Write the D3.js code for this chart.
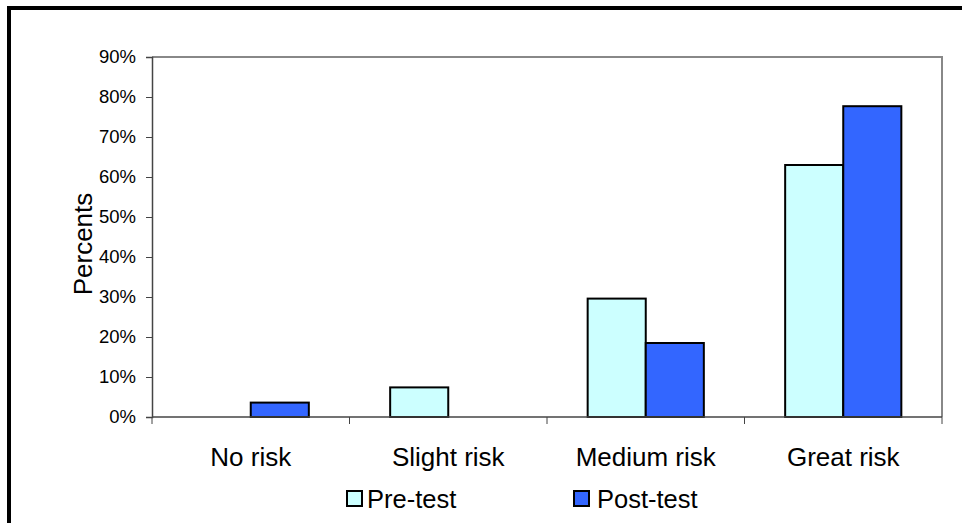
<!DOCTYPE html>
<html>
<head>
<meta charset="utf-8">
<script src="https://cdn.jsdelivr.net/npm/d3@7"></script>
<style>
  html, body { margin: 0; padding: 0; background: #fff; }
  svg { display: block; font-family: Arial, "Liberation Sans", sans-serif; }
</style>
</head>
<body>
<svg id="chart" width="962" height="523"></svg>
<script>
// Risk perception, pre-test vs post-test (percent of respondents)
const categories = ["No risk", "Slight risk", "Medium risk", "Great risk"];
const seriesNames = ["Pre-test", "Post-test"];
const preTest  = [0, 7.4, 29.6, 63.0];
const postTest = [3.6, 0, 18.5, 77.7];
const yTicks = [0, 10, 20, 30, 40, 50, 60, 70, 80, 90];
const colors = ["#CCFFFF", "#3366FF"];

const svg = d3.select("#chart");

// Outer frame
svg.append("rect")
  .attr("x", 9).attr("y", 8)
  .attr("width", 970).attr("height", 540)
  .attr("fill", "none").attr("stroke", "#000").attr("stroke-width", 4);

const plot = { left: 152, top: 57, right: 942, bottom: 417 };

const x = d3.scaleBand().domain(categories).range([plot.left, plot.right]);
const y = d3.scaleLinear().domain([0, 90]).range([plot.bottom, plot.top]);
const sub = d3.scaleBand().domain(seriesNames)
  .range([0, x.bandwidth()]).paddingInner(0).paddingOuter(0.7);

// Plot area frame (top and right edges in gray)
svg.append("path")
  .attr("d", `M${plot.left},${plot.top}H${plot.right}V${plot.bottom}`)
  .attr("fill", "none").attr("stroke", "#888").attr("stroke-width", 2);

// Bars
const data = categories.map((c, i) => ({ c, vals: [preTest[i], postTest[i]] }));
const groups = svg.append("g").selectAll("g").data(data).join("g")
  .attr("transform", d => `translate(${x(d.c)},0)`);
groups.selectAll("rect")
  .data(d => d.vals.map((v, j) => ({ v, s: seriesNames[j], j })).filter(e => e.v > 0))
  .join("rect")
  .attr("x", e => sub(e.s))
  .attr("y", e => y(e.v))
  .attr("width", sub.bandwidth())
  .attr("height", e => y(0) - y(e.v))
  .attr("fill", e => colors[e.j])
  .attr("stroke", "#000").attr("stroke-width", 2);

// Y axis
const yAxis = svg.append("g")
  .attr("transform", `translate(${plot.left},0)`)
  .call(d3.axisLeft(y).tickValues(yTicks).tickFormat(d => d + "%").tickSizeOuter(0).tickSize(6).tickPadding(10));
yAxis.select(".domain").attr("stroke", "#444").attr("stroke-width", 1.5);
yAxis.selectAll(".tick line").attr("stroke", "#444");
yAxis.selectAll(".tick text").attr("font-size", 18.5).attr("fill", "#000")
  .attr("font-family", "Arial, 'Liberation Sans', sans-serif");

// X axis: tick marks at the category boundaries
svg.append("line")
  .attr("x1", plot.left).attr("x2", plot.right)
  .attr("y1", plot.bottom).attr("y2", plot.bottom)
  .attr("stroke", "#444").attr("stroke-width", 1.5);
const bounds = categories.map(c => x(c)).concat([plot.right]);
svg.append("g").selectAll("line").data(bounds).join("line")
  .attr("x1", d => d).attr("x2", d => d)
  .attr("y1", plot.bottom).attr("y2", plot.bottom + 7)
  .attr("stroke", "#444").attr("stroke-width", 1);
svg.append("g").selectAll("text").data(categories).join("text")
  .attr("x", d => x(d) + x.bandwidth() / 2)
  .attr("y", 466)
  .attr("text-anchor", "middle")
  .attr("font-size", 26)
  .text(d => d);

// Y axis title
svg.append("text")
  .attr("transform", "translate(92,244) rotate(-90)")
  .attr("text-anchor", "middle")
  .attr("font-size", 26)
  .text("Percents");

// Legend
const legendX = [347, 574];
const legendTextDx = [20, 23];
const legend = svg.append("g").selectAll("g").data(seriesNames).join("g")
  .attr("transform", (d, i) => `translate(${legendX[i]},491)`);
legend.append("rect")
  .attr("width", 15).attr("height", 15)
  .attr("fill", (d, i) => colors[i])
  .attr("stroke", "#000").attr("stroke-width", 2);
legend.append("text")
  .attr("x", (d, i) => legendTextDx[i]).attr("y", 17)
  .attr("font-size", 25.5)
  .text(d => d);
</script>
</body>
</html>
